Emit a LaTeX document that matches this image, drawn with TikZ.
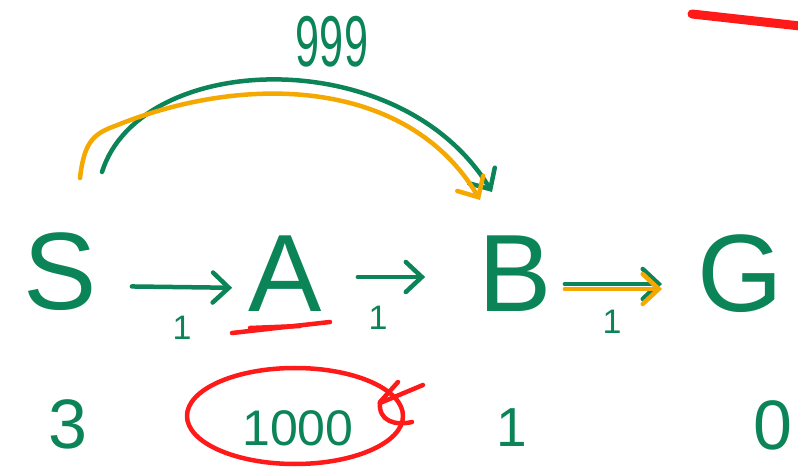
\documentclass[tikz,border=0pt]{standalone}
\usepackage{fontspec}
\setmainfont{Liberation Sans}
\usepackage{tikz}
\usetikzlibrary{arrows.meta,positioning,calc}
\definecolor{inkgreen}{HTML}{0B8457}
\definecolor{inkorange}{HTML}{F5A800}
\definecolor{inkred}{HTML}{FF1A1A}

\begin{document}
\begin{tikzpicture}[x=1pt,y=1pt,
  letter/.style={text=inkgreen,font=\fontsize{110}{110}\selectfont,inner sep=0pt},
  wt/.style={text=inkgreen,font=\fontsize{34}{34}\selectfont,inner sep=0pt},
  cost/.style={text=inkgreen,inner sep=0pt},
  pen/.style={line width=4.5pt,line cap=round,line join=round},
  tip/.style={-{Straight Barb[length=16pt,width=30pt,line cap=round]}}]
  \useasboundingbox (0,0) rectangle (798,466);

  % states
  \node[letter] (S) at (60,194) {S};
  \node[letter] (A) at (285,192) {A};
  \node[letter] (B) at (515,192) {B};
  \node[letter] (G) at (740,192) {G};

  % edges
  \draw[pen,tip,inkgreen,shorten <=35pt,shorten >=16pt]
    ([yshift=-14pt]S.east) -- ([yshift=-14pt]A.west);
  \draw[pen,tip,inkgreen,shorten <=36pt,shorten >=53pt]
    ([yshift=-3pt]A.east) -- ([yshift=-3pt]B.west);
  \draw[pen,tip,inkgreen,shorten <=13pt,shorten >=35pt]
    ([yshift=-10pt]B.east) -- ([yshift=-10pt]G.west);
  \draw[pen,tip,inkorange,shorten <=13pt,shorten >=35pt]
    ([yshift=-15pt]B.east) -- ([yshift=-15pt]G.west);
  \node[wt] (w1) at (182,138) {1};
  \node[wt] (w2) at (378,148) {1};
  \node[wt] (w3) at (612,144) {1};

  % heuristic values
  \node[cost,font=\fontsize{70}{70}\selectfont] (h1) at (68,42) {3};
  \node[cost,font=\fontsize{50}{50}\selectfont] (h2) at (298,38) {1000};
  \node[cost,font=\fontsize{55}{55}\selectfont] (h3) at (512,38) {1};
  \node[cost,font=\fontsize{70}{70}\selectfont] (h4) at (773,41) {0};

  % shortcut S to B
  \coordinate (gs) at (102,294);
  \coordinate (ge) at (492,274);
  \coordinate (os) at (80,288);
  \coordinate (oe) at (480,266);
  \draw[pen,tip,inkgreen] (gs) .. controls (140,415) and (400,425) .. (ge);
  \draw[pen,tip,inkorange] (os) .. controls (84,322) and (92,332) .. (115,340)
    .. controls (250,395) and (410,385) .. (oe);
  \node[cost,font=\fontsize{72}{72}\selectfont] (lbl) at (332,424)
    {\scalebox{0.6}[1]{999}};

  % red marks
  \draw[pen,inkred] (232,133) -- (330,144);
  \draw[pen,inkred] (250,138) -- (300,140);
  \draw[pen,inkred] ($(h2)+(-3,12)$) ellipse [x radius=108, y radius=48];
  \draw[pen,inkred] (380,63) -- (423,81);
  \draw[pen,inkred] (398,84) -- (380,64) .. controls (378,45) and (395,40) .. (412,44);
  \draw[line width=9pt,line cap=round,inkred] (692,452) -- (800,440);
\end{tikzpicture}
\end{document}
